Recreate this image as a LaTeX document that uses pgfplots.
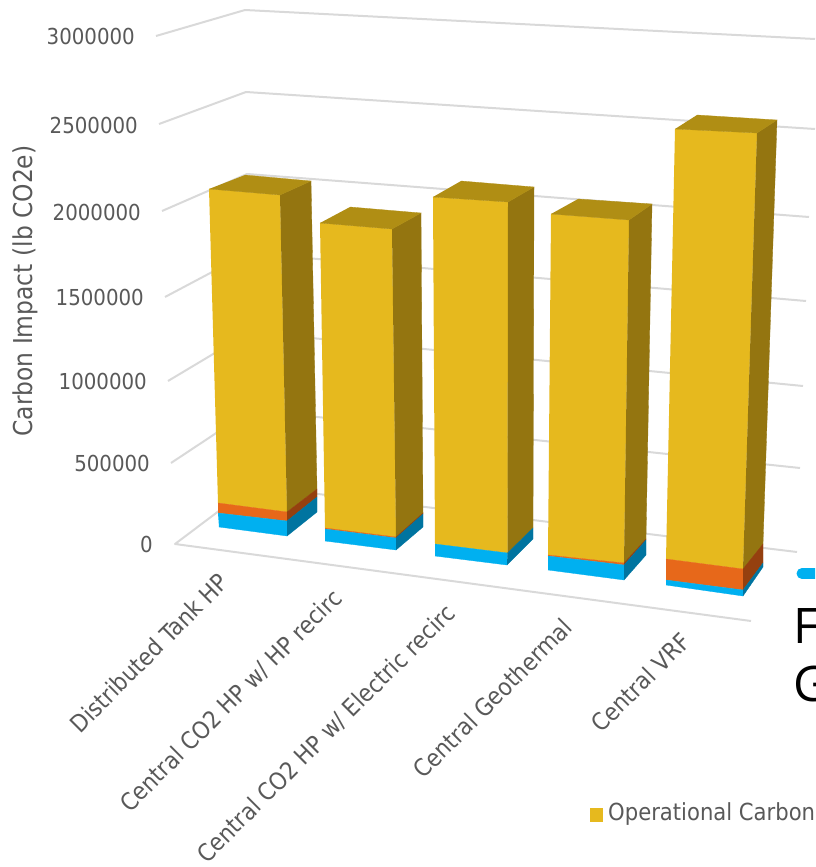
\documentclass[border=0pt]{standalone}
\usepackage{pgfplots}
\pgfplotsset{compat=1.18}
\usepackage{fontspec}
\setmainfont{DejaVu Sans Condensed}
\newfontfamily\slidefont{Open Sans}
\definecolor{yfront}{HTML}{E6B91E}
\definecolor{ytop}{HTML}{B08E14}
\definecolor{yside}{HTML}{947510}
\definecolor{ofront}{HTML}{E7681A}
\definecolor{oside}{HTML}{95400F}
\definecolor{bfront}{HTML}{00B0F0}
\definecolor{bside}{HTML}{0074A0}
\definecolor{gridc}{HTML}{D9D9D9}
\definecolor{textc}{HTML}{595959}
% One projected face of a bar, in screen coordinates of the perspective view
\newcommand{\face}[2]{\addplot[fill=#1,draw=#1,line width=0.3pt,mark=none] coordinates {#2};}
\newcommand{\gridline}[1]{\addplot[draw=gridc,line width=2pt,mark=none,line join=round] coordinates {#1};}
\newcommand{\ticklab}[2]{\node[anchor=east,text=textc,font=\fontsize{22}{24}\selectfont,inner sep=0pt] at (axis cs:#1) {#2};}
\newcommand{\catlab}[2]{\node[anchor=east,rotate=45,text=textc,font=\fontsize{24}{26}\selectfont,inner sep=0pt] at (axis cs:#1) {#2};}
\begin{document}
\begin{tikzpicture}
\path[use as bounding box] (0,0) rectangle (815pt,867pt);
\clip (0,0) rectangle (815pt,867pt);
\begin{axis}[
  at={(0,0)},anchor=south west,scale only axis,
  width=815pt,height=867pt,
  xmin=0,xmax=815,ymin=0,ymax=867,y dir=reverse,
  hide axis,clip=false]

% Back wall and side wall gridlines
\gridline{(156,36) (245,10) (815,39)}
\gridline{(159,124) (246,92) (815,129)}
\gridline{(162,211) (247,174) (809,217)}
\gridline{(165,297) (248,253) (806,301)}
\gridline{(168,381) (250,332) (803,386)}
\gridline{(171,463) (251,410) (800,468)}
\gridline{(751,621) (175,544) (252,486) (797,552)}

% Distributed Tank HP
\face{yfront}{(209,189) (280,195) (287,512) (218,503)}
\face{ofront}{(218,503) (287,512) (287,521) (218,513)}
\face{bfront}{(218,513) (287,521) (287,536) (219,527)}
\face{yside}{(280,195) (311,181) (317,489) (287,512)}
\face{oside}{(287,512) (317,489) (317,497) (287,521)}
\face{bside}{(287,521) (317,497) (317,512) (287,536)}
\face{ytop}{(209,189) (280,195) (311,181) (245,175)}

% Central CO2 HP w/ HP recirc
\face{yfront}{(320,223) (392,229) (396,537) (325,528)}
\face{ofront}{(325,528) (396,537) (396,538) (325,529)}
\face{bfront}{(325,529) (396,538) (396,550) (325,541)}
\face{yside}{(392,229) (421,213) (423,513) (396,537)}
\face{oside}{(396,537) (423,513) (423,514) (396,538)}
\face{bside}{(396,538) (423,514) (423,527) (396,550)}
\face{ytop}{(320,223) (392,229) (421,213) (350,207)}

% Central CO2 HP w/ Electric recirc
\face{yfront}{(433,197) (508,202) (507.5,553) (435,544)}
\face{bfront}{(435,544) (507.5,553) (507,565) (435,556)}
\face{yside}{(508,202) (534,187) (533,528) (507.5,553)}
\face{bside}{(507.5,553) (533,528) (533,539) (507,565)}
\face{ytop}{(433,197) (508,202) (534,187) (461,181)}

% Central Geothermal
\face{yfront}{(551,214) (629,220) (624,563) (548,555)}
\face{ofront}{(548,555) (624,563) (624,565) (548,556)}
\face{bfront}{(548,556) (624,565) (624,580) (548,570)}
\face{yside}{(629,220) (652,204) (646,539) (624,563)}
\face{oside}{(624,563) (646,539) (646,540) (624,565)}
\face{bside}{(624,565) (646,540) (646,555) (624,580)}
\face{ytop}{(551,214) (629,220) (652,204) (578,199)}

% Central VRF
\face{yfront}{(675,129) (757,133) (743,569) (666,559)}
\face{ofront}{(666,559) (743,569) (743,590) (666,580)}
\face{bfront}{(666,580) (743,590) (743,596) (666,585)}
\face{yside}{(757,133) (777,120) (763,544) (743,569)}
\face{oside}{(743,569) (763,544) (763,563) (743,590)}
\face{bside}{(743,590) (763,563) (763,567) (743,596)}
\face{ytop}{(675,129) (757,133) (777,120) (697,115)}

% Value labels
\ticklab{135,36}{3000000}
\ticklab{138,125}{2500000}
\ticklab{141,212}{2000000}
\ticklab{144,297}{1500000}
\ticklab{147,381}{1000000}
\ticklab{150,463}{500000}
\ticklab{153,544}{0}

% Category labels
\catlab{224,578}{Distributed Tank HP}
\catlab{338,594}{Central CO2 HP w/ HP recirc}
\catlab{451,609}{Central CO2 HP w/ Electric recirc}
\catlab{568,623}{Central Geothermal}
\catlab{686,637}{Central VRF}

\node[rotate=90,text=textc,font=\fontsize{26}{28}\selectfont,inner sep=0pt] at (axis cs:25,291) {Carbon Impact (lb CO2e)};

% Legend
\face{yfront}{(590,808) (602,808) (602,821) (590,821)}
\node[anchor=west,text=textc,font=\fontsize{23.5}{26}\selectfont,inner sep=0pt] at (axis cs:608,814) {Operational Carbon};

% Overlapping slide content at the right edge
\addplot[draw=bfront,line width=11pt,line cap=round,mark=none] coordinates {(802,573.5) (830,573.5)};
\node[anchor=west,text=black,font=\slidefont\fontsize{49}{52}\selectfont,inner sep=0pt] at (axis cs:793,626) {F};
\node[anchor=west,text=black,font=\slidefont\fontsize{49}{52}\selectfont,inner sep=0pt] at (axis cs:793,684) {G};
\end{axis}
\end{tikzpicture}
\end{document}
